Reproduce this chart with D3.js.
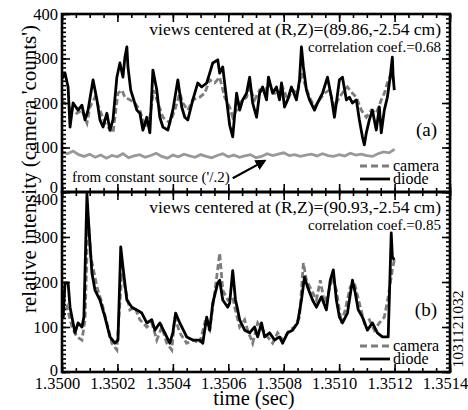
<!DOCTYPE html>
<html>
<head>
<meta charset="utf-8">
<script src="https://cdn.jsdelivr.net/npm/d3@7"></script>
<style>
	body { margin: 0; background: #fff; }
</style>
</head>
<body>
<div id="chart"></div>
<script>
// times are microseconds after 1.3500 s
var t0 = 1.35;
var xTicks = [0, 200, 400, 600, 800, 1000, 1200, 1400];
var yTicks = [0, 100, 200, 300, 400];

// panel (a), R=89.86 cm
var diodeA = [[0,255],[11,267],[22,236],[29,146],[40,200],[58,184],[72,195],[83,162],[94,184],[112,252],[126,207],[137,162],[148,146],[162,177],[173,139],[184,162],[198,258],[209,290],[220,258],[227,303],[234,326],[238,281],[248,229],[256,213],[270,184],[281,177],[292,139],[306,168],[317,133],[328,274],[342,229],[353,168],[364,146],[382,139],[400,184],[418,252],[432,191],[443,168],[454,162],[472,207],[490,245],[504,236],[522,245],[533,267],[544,290],[562,297],[569,267],[580,281],[594,207],[605,150],[616,124],[630,222],[641,184],[652,207],[666,222],[677,258],[688,200],[702,168],[713,222],[724,236],[738,207],[745,258],[760,222],[774,236],[785,207],[792,245],[803,191],[814,207],[828,236],[846,207],[857,252],[864,326],[871,281],[882,229],[893,207],[911,184],[922,200],[940,222],[958,258],[972,213],[983,168],[1001,252],[1012,258],[1026,207],[1037,213],[1048,200],[1062,207],[1073,162],[1084,124],[1091,106],[1098,133],[1109,162],[1120,184],[1134,139],[1145,191],[1152,133],[1163,184],[1174,213],[1184,258],[1192,303],[1195,258],[1199,229]];
var cameraA = [[0,205],[11,200],[36,184],[54,177],[72,184],[90,155],[101,191],[119,213],[137,184],[155,155],[166,146],[184,133],[202,222],[216,229],[227,213],[245,207],[263,200],[281,184],[299,146],[317,168],[331,229],[346,200],[364,168],[389,155],[407,184],[425,222],[436,200],[454,184],[472,207],[497,213],[515,222],[533,252],[551,245],[569,258],[587,213],[605,191],[616,168],[630,184],[641,200],[666,213],[677,236],[695,207],[713,229],[731,222],[745,245],[767,222],[785,213],[796,236],[814,207],[832,229],[850,222],[864,267],[875,245],[893,213],[911,191],[929,207],[947,222],[965,229],[983,191],[1001,213],[1019,229],[1030,236],[1048,222],[1062,213],[1080,184],[1098,168],[1116,184],[1134,177],[1152,207],[1163,222],[1174,245],[1188,267],[1199,245]];
// constant source, halved, one value every 20 us
var constA = [90,86,92,84,80,85,78,83,76,82,79,86,77,81,84,78,82,87,80,76,83,79,85,81,78,84,80,77,82,86,79,83,78,81,84,77,80,86,82,85,88,82,84,80,83,85,81,86,82,80,84,81,87,83,85,82,80,86,90,88,96];

// panel (b), R=90.93 cm
var diodeB = [[0,120],[4,122],[11,198],[22,198],[29,144],[40,109],[47,87],[58,109],[72,100],[79,122],[90,395],[97,322],[108,220],[119,182],[137,160],[155,122],[173,78],[191,64],[202,71],[212,278],[220,233],[234,160],[252,144],[270,138],[288,131],[306,109],[324,116],[335,93],[353,109],[378,78],[389,64],[400,87],[410,131],[425,109],[450,78],[472,71],[497,71],[508,64],[522,122],[533,93],[544,153],[562,198],[569,204],[580,160],[598,144],[605,153],[616,225],[626,160],[634,138],[641,116],[659,93],[677,87],[695,100],[706,78],[720,109],[731,78],[749,87],[767,71],[785,78],[796,64],[814,87],[832,93],[850,109],[864,160],[875,211],[886,189],[904,160],[918,144],[936,167],[954,138],[968,204],[979,227],[990,160],[1001,122],[1012,109],[1030,131],[1048,204],[1058,176],[1069,138],[1084,122],[1102,93],[1120,109],[1138,87],[1156,78],[1177,78],[1188,309],[1192,256],[1199,249]];
var cameraB = [[0,120],[4,122],[18,144],[36,100],[54,78],[72,71],[83,116],[94,344],[104,256],[119,211],[126,189],[144,153],[162,109],[180,64],[198,49],[205,116],[216,220],[227,189],[245,138],[263,144],[281,116],[306,100],[324,109],[342,71],[360,100],[378,64],[396,49],[407,122],[425,87],[450,64],[472,71],[497,64],[515,109],[533,93],[551,176],[569,264],[580,182],[598,160],[616,167],[623,144],[641,100],[659,116],[670,93],[688,64],[706,109],[724,93],[742,78],[760,64],[778,87],[796,71],[821,93],[839,100],[857,122],[871,242],[882,204],[900,182],[918,160],[932,204],[947,153],[961,176],[976,211],[990,182],[1008,109],[1022,138],[1040,189],[1055,198],[1073,153],[1091,109],[1109,116],[1127,93],[1145,109],[1163,122],[1177,167],[1192,227],[1199,249]];

var panels = [
	{diode: diodeA, camera: cameraA, constant: constA, top: 14, bottom: 192,
		view: "views centered at (R,Z)=(89.86,-2.54 cm)", corr: "correlation coef.=0.68", tag: "(a)"},
	{diode: diodeB, camera: cameraB, constant: null, top: 192, bottom: 372,
		view: "views centered at (R,Z)=(90.93,-2.54 cm)", corr: "correlation coef.=0.85", tag: "(b)"}
];

var W = 468, H = 410;
var left = 62, right = 450;
var grey = "#7c7c7c";
var serif = "'Liberation Serif', 'Times New Roman', Times, serif";

var svg = d3.select("#chart").append("svg")
	.attr("width", W)
	.attr("height", H)
	.attr("font-family", serif);

var x = d3.scaleLinear().domain([0, 1400]).range([left, right]);

var line = function (y) {
	return d3.line()
		.x(function (d) { return x(d[0]); })
		.y(function (d) { return y(d[1]); });
};

panels.forEach(function (p, i) {
	var y = d3.scaleLinear().domain([0, 400]).range([p.bottom, p.top]);
	var g = svg.append("g");
	var last = (i == panels.length - 1);

	g.append("clipPath").attr("id", "clip" + i)
		.append("rect")
		.attr("x", left).attr("y", p.top)
		.attr("width", right - left).attr("height", p.bottom - p.top);

	var plot = g.append("g").attr("clip-path", "url(#clip" + i + ")");

	if (p.constant) {
		var cs = p.constant.map(function (v, k) { return [k * 20, v]; });
		plot.append("path")
			.datum(cs)
			.attr("d", line(y))
			.attr("fill", "none")
			.attr("stroke", "#999")
			.attr("stroke-width", 2.8);
	}

	plot.append("path")
		.datum(p.camera)
		.attr("d", line(y))
		.attr("fill", "none")
		.attr("stroke", grey)
		.attr("stroke-width", 2.8)
		.attr("stroke-dasharray", "6,3");

	plot.append("path")
		.datum(p.diode)
		.attr("d", line(y))
		.attr("fill", "none")
		.attr("stroke", "#000")
		.attr("stroke-width", 2.8)
		.attr("stroke-linejoin", "round");

	// ticks on all four sides, pointing in
	var ax = [
		[d3.axisLeft(y), left, 0, yTicks, d3.range(0, 401, 10)],
		[d3.axisRight(y), right, 0, yTicks, d3.range(0, 401, 10)],
		[d3.axisTop(x), 0, p.top, xTicks, d3.range(0, 1401, 50)],
		[d3.axisBottom(x), 0, p.bottom, xTicks, d3.range(0, 1401, 50)]
	];
	ax.forEach(function (a) {
		var minor = g.append("g")
			.attr("transform", "translate(" + a[1] + "," + a[2] + ")")
			.call(a[0].tickValues(a[4]).tickSize(-4).tickFormat(""));
		minor.select(".domain").remove();
		var major = g.append("g")
			.attr("transform", "translate(" + a[1] + "," + a[2] + ")")
			.call(a[0].tickValues(a[3]).tickSize(-8).tickFormat(""));
		major.select(".domain").remove();
		g.selectAll(".tick line").attr("stroke", "#000").attr("stroke-width", 1.6);
	});

	// y labels
	var yl = g.append("g")
		.attr("transform", "translate(" + left + ",0)")
		.call(d3.axisLeft(y).tickValues(yTicks).tickSize(0).tickPadding(4));
	yl.select(".domain").remove();
	yl.selectAll("text")
		.attr("font-family", serif)
		.attr("font-size", "16.5px")
		.attr("y", function (d) {
			if (i == 0 && d == 0) return -5;
			if (i == 1 && d == 400) return 7;
			if (d == 0) return -2;
			return 0;
		});

	if (last) {
		var xl = g.append("g")
			.attr("transform", "translate(0," + p.bottom + ")")
			.call(d3.axisBottom(x).tickValues(xTicks).tickSize(0).tickPadding(5)
				.tickFormat(function (d) { return (t0 + d * 1e-6).toFixed(4); }));
		xl.select(".domain").remove();
		xl.selectAll("text")
			.attr("font-family", serif)
			.attr("font-size", "16.5px")
			.attr("dx", -5);
	}

	// frame
	g.append("rect")
		.attr("x", left).attr("y", p.top)
		.attr("width", right - left).attr("height", p.bottom - p.top)
		.attr("fill", "none")
		.attr("stroke", "#000")
		.attr("stroke-width", 2.6);

	g.append("text")
		.attr("x", right - 9).attr("y", p.top + 21)
		.attr("text-anchor", "end")
		.attr("font-size", "17.5px")
		.text(p.view);

	g.append("text")
		.attr("x", right - 9).attr("y", p.top + 38)
		.attr("text-anchor", "end")
		.attr("font-size", "15px")
		.text(p.corr);

	g.append("text")
		.attr("x", right - 13).attr("y", p.bottom - 56)
		.attr("text-anchor", "end")
		.attr("font-size", "19px")
		.text(p.tag);

	// legend
	var leg = [["camera", grey, "7,4", p.bottom - 26], ["diode", "#000", null, p.bottom - 13]];
	leg.forEach(function (l) {
		g.append("line")
			.attr("x1", 360).attr("x2", 390)
			.attr("y1", l[3]).attr("y2", l[3])
			.attr("stroke", l[1])
			.attr("stroke-width", 2.8)
			.attr("stroke-dasharray", l[2]);
		g.append("text")
			.attr("x", 393).attr("y", l[3] + 5)
			.attr("font-size", "16px")
			.text(l[0]);
	});

	if (p.constant) {
		g.append("text")
			.attr("x", 72).attr("y", p.bottom - 10)
			.attr("font-size", "15px")
			.text("from constant source ('/.2)");

		svg.append("defs").append("marker")
			.attr("id", "arrow")
			.attr("viewBox", "0 0 10 10")
			.attr("refX", 8).attr("refY", 5)
			.attr("markerWidth", 5).attr("markerHeight", 5)
			.attr("orient", "auto")
			.append("path")
			.attr("d", "M0,0L10,5L0,10z")
			.attr("fill", "#000");

		g.append("line")
			.attr("x1", x(616)).attr("y1", y(31))
			.attr("x2", x(731)).attr("y2", y(70))
			.attr("stroke", "#000")
			.attr("stroke-width", 2.2)
			.attr("marker-end", "url(#arrow)");
	}
});

// axis titles
svg.append("text")
	.attr("transform", "translate(36," + 169 + ") rotate(-90)")
	.attr("text-anchor", "middle")
	.attr("font-size", "21px")
	.text("relative intensity (camera 'counts')");

svg.append("text")
	.attr("x", 254).attr("y", 405)
	.attr("text-anchor", "middle")
	.attr("font-size", "20.5px")
	.text("time (sec)");

svg.append("text")
	.attr("transform", "translate(463,329) rotate(-90)")
	.attr("text-anchor", "middle")
	.attr("font-size", "15.5px")
	.text("1031121032");
</script>
</body>
</html>
